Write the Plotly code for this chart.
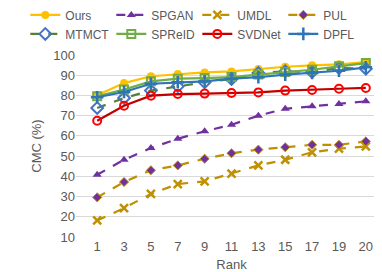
import plotly.graph_objects as go

ranks = ["1", "3", "5", "7", "9", "11", "13", "15", "17", "19", "20"]
ours = [80.1, 86.1, 89.5, 90.6, 91.4, 91.9, 93.1, 94.2, 94.9, 95.4, 96.5]
spgan = [40.8, 48.2, 54.0, 58.6, 62.3, 65.5, 70.0, 73.4, 74.6, 75.8, 77.1]
umdl = [18.2, 24.3, 31.3, 36.2, 37.5, 41.3, 45.4, 48.2, 51.9, 53.7, 54.8]
pul = [29.6, 37.2, 43.0, 45.4, 48.7, 51.4, 53.2, 54.4, 55.6, 55.6, 57.3]
mtmct = [73.8, 78.7, 82.4, 84.5, 86.5, 88.1, 91.1, 91.9, 91.6, 93.6, 93.2]
spreid = [79.6, 82.9, 87.0, 88.3, 88.6, 89.1, 90.3, 91.6, 92.7, 94.4, 96.0]
svdnet = [67.5, 74.9, 79.9, 80.7, 80.9, 81.2, 81.5, 82.4, 82.7, 83.3, 83.7]
dpfl = [79.1, 81.7, 85.8, 86.5, 87.0, 88.3, 89.0, 90.3, 91.1, 92.2, 93.9]

series = [
    ("Ours", ours, "#FFC000", "solid", dict(symbol="circle", size=8, color="#FFC000")),
    ("SPGAN", spgan, "#7030A0", "dash", dict(symbol="triangle-up", size=8, color="#7030A0")),
    ("UMDL", umdl, "#BF9000", "dash", dict(symbol="x-thin", size=8, color="#BF9000", line=dict(color="#BF9000", width=2.5))),
    ("PUL", pul, "#BF9000", "dash", dict(symbol="diamond", size=7, color="#7030A0", line=dict(color="#BF9000", width=1))),
    ("MTMCT", mtmct, "#548235", "dash", dict(symbol="diamond-open", size=9, color="#4472C4", line=dict(color="#4472C4", width=2))),
    ("SPReID", spreid, "#70AD47", "solid", dict(symbol="square-open", size=8, color="#70AD47", line=dict(color="#70AD47", width=2))),
    ("SVDNet", svdnet, "#C00000", "solid", dict(symbol="circle-open", size=8, color="#FF0000", line=dict(color="#FF0000", width=2))),
    ("DPFL", dpfl, "#2E75B6", "solid", dict(symbol="cross-thin", size=9, color="#2E75B6", line=dict(color="#2E75B6", width=2.5))),
]

fig = go.Figure()
for name, vals, color, dash, marker in series:
    fig.add_trace(go.Scatter(
        x=ranks, y=vals, name=name, mode="lines+markers",
        line=dict(color=color, width=2.2, dash=dash),
        marker=marker,
    ))

fig.update_layout(
    width=382, height=272,
    margin=dict(l=68, r=3, t=47, b=43, autoexpand=False),
    plot_bgcolor="white", paper_bgcolor="white",
    font=dict(family="Liberation Sans, Arial, sans-serif", color="#595959", size=13),
    legend=dict(
        orientation="h", xref="paper", yref="paper",
        x=-0.163, y=1.30, xanchor="left", yanchor="top",
        entrywidth=41, entrywidthmode="pixels", itemwidth=30,
        font=dict(size=12, color="#595959"),
        tracegroupgap=0, bgcolor="rgba(0,0,0,0)",
    ),
    showlegend=True,
)
fig.update_xaxes(
    type="category", showgrid=False, zeroline=False,
    showline=False, ticks="",
    tickfont=dict(size=13, color="#595959"),
    title=dict(text="Rank", font=dict(size=13, color="#595959"), standoff=6),
)
fig.update_yaxes(
    range=[10, 100], tickvals=[10, 20, 30, 40, 50, 60, 70, 80, 90, 100],
    showgrid=True, gridcolor="#D9D9D9", gridwidth=1, zeroline=False,
    showline=False, ticks="",
    tickfont=dict(size=13, color="#595959"),
    title=dict(text="CMC (%)", font=dict(size=13, color="#595959"), standoff=8),
)

fig.write_html("out.html")
